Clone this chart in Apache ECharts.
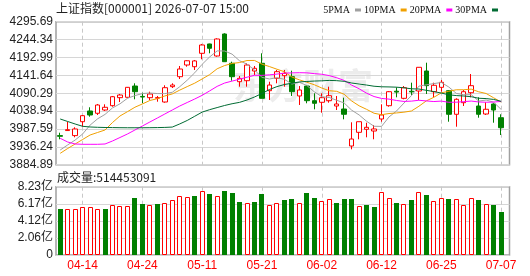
<!DOCTYPE html>
<html><head><meta charset="utf-8">
<script src="https://cdn.jsdelivr.net/npm/echarts@6/dist/echarts.min.js"></script>
<style>html,body{margin:0;padding:0;background:#fff}#c{width:530px;height:276px}</style>
</head><body><div id="c"></div>
<script>
const dates = ['04-09','04-10','04-13','04-14','04-15','04-16','04-17','04-20','04-21','04-22',
'04-23','04-24','04-27','04-28','04-29','04-30','05-06','05-07','05-08','05-11',
'05-12','05-13','05-14','05-15','05-18','05-19','05-20','05-21','05-22','05-25',
'05-26','05-27','05-28','05-29','06-01','06-02','06-03','06-04','06-05','06-08',
'06-09','06-10','06-11','06-12','06-15','06-16','06-17','06-18','06-22','06-23',
'06-24','06-25','06-26','06-29','06-30','07-01','07-02','07-03','07-06','07-07'];

const opens = [3968.5,3983,3968.5,4008.4,4039.2,4032.6,4042.0,4054.4,4077.4,4078.5,
4110.9,4081,4077.4,4076,4065,4109,4137.7,4171.3,4166.4,4204.9,
4231.7,4197.2,4260.4,4176.2,4123.3,4126.2,4154,4176.2,4097.5,4133.1,
4140.6,4137.7,4082.3,4110.9,4068.8,4064.2,4068.8,4053.5,4044.9,3938.6,
3977.9,3986.6,3981.7,4016.2,4054.4,4096,4075.6,4096,4096.6,4154.1,
4094.6,4107.2,4097.5,4029.7,4063,4091.7,4053.5,4030.5,4059.3,4019.9];

const closes = [3966.5,3985.5,3987.5,4025.7,4027.7,4056.4,4049.8,4080.2,4085.1,4107.2,
4094.6,4079.3,4088,4077.5,4106.1,4113.8,4159.8,4183.5,4183.0,4228.8,
4219.3,4246,4180.8,4137.7,4133.1,4171.3,4161.8,4075.6,4113.8,4152.1,
4147.5,4094.6,4099.5,4068.8,4061.3,4077.4,4083.1,4059.3,4029.7,3958.7,
4008.4,3992.3,3987.5,4027.7,4094.6,4093.5,4106.1,4094,4164.7,4112,
4113,4121.6,4029.7,4072.8,4094.6,4111.9,4029.7,4044.1,4042,3991.2];

const lows = [3957.9,3981.7,3963.6,3994,4022.8,4027.7,4039.2,4051.5,4065,4076,
4072.8,4061.3,4070.8,4065.9,4063,4105.2,4131.1,4166.4,4157,4187.7,
4204.9,4195.2,4180.8,4126.2,4109,4109,4142.6,4075.6,4070.8,4118.7,
4109,4082.3,4056.4,4061.3,4044,4034.3,4063,4042,4015.3,3929.1,
3957.9,3963.6,3957.9,4008.4,4051.5,4078.5,4072.8,4085.1,4070.8,4088,
4078.5,4094.6,4008.4,3994,4053.5,4078.5,4019.9,4027.7,4005.5,3970.2];

const highs = [3976.8,4008.4,3992.3,4027.6,4049.8,4059.3,4058.4,4082.3,4088,4108,
4118.7,4091.7,4094.6,4082.3,4113,4118.7,4168.4,4185,4185.7,4231.7,
4232.5,4248,4262.4,4180.8,4139.7,4176.2,4168.4,4204.9,4123.3,4157,
4157,4155,4111,4113.8,4090,4090,4109,4082.3,4077.4,4006.7,
4008.4,4005.5,3998.9,4058.4,4096.6,4107.2,4110.9,4120.5,4165,4177.9,
4120.5,4128.2,4099.5,4075.6,4099.5,4145.4,4078.5,4064.2,4061.3,4029.7];

// volume in 亿
const volumes = [5.54,5.50,5.50,5.74,5.74,5.50,5.54,5.98,5.86,5.86,
6.87,6.14,5.98,6.14,6.26,6.58,7.07,6.95,7.11,7.67,
7.35,7.07,7.71,7.47,6.38,6.26,6.38,7.35,6.02,6.26,
6.62,6.75,6.26,7.47,6.87,6.50,6.71,6.26,6.75,6.75,
5.90,6.02,5.78,7.59,6.87,6.26,6.14,6.62,7.59,7.23,
6.50,6.87,6.75,6.75,6.02,6.87,6.62,6.14,6.02,5.14453091];

const ma5 = [3927.1,3941.6,3955.8,3973.1,3998.6,4016.6,4029.4,4048.0,4059.8,4075.7,
4083.4,4089.3,4090.8,4089.3,4089.1,4092.9,4109.0,4127.8,4148.9,4173.4,
4194.5,4211.8,4211.5,4202.5,4183.4,4173.8,4156.9,4135.9,4131.1,4134.9,
4130.2,4116.7,4121.5,4112.5,4094.3,4080.3,4078.0,4070.0,4062.2,4041.6,
4027.8,4009.7,3995.3,3994.9,4022.1,4039.1,4061.9,4083.2,4110.6,4114.4,
4117.9,4121.0,4108.1,4089.8,4085.9,4086.1,4067.7,4070.6,4064.5,4043.8];

const ma10 = [3917.6,3931.4,3944.4,3957.3,3970.2,3977.4,3984.6,4006.1,4024.8,4037.2,
4050.0,4059.4,4069.4,4074.6,4082.4,4088.2,4099.2,4109.3,4119.1,4131.3,
4143.7,4160.4,4169.7,4175.7,4178.4,4184.2,4184.4,4173.7,4166.8,4159.2,
4152.0,4136.8,4128.7,4121.8,4114.6,4105.2,4097.4,4095.7,4087.3,4068.0,
4054.1,4043.9,4032.7,4028.5,4031.9,4033.5,4035.8,4039.2,4052.8,4068.3,
4078.5,4091.4,4095.7,4100.2,4100.2,4102.0,4094.4,4089.4,4077.1,4064.9];

const ma20 = [3960.7,3950.1,3944.4,3943.5,3943.5,3943.5,3944.4,3953.0,3963.0,3973.1,
3984.6,3996.1,4007.6,4019.0,4030.5,4042.0,4053.5,4063.6,4073.6,4084.2,
4096.9,4109.9,4119.5,4125.1,4130.4,4136.2,4141.8,4141.5,4143.0,4145.2,
4147.9,4148.6,4149.2,4148.8,4146.5,4144.7,4140.9,4134.7,4127.1,4113.6,
4103.0,4090.3,4080.7,4075.2,4073.3,4069.4,4066.6,4067.5,4070.0,4068.1,
4066.3,4067.6,4064.2,4064.4,4066.0,4067.7,4065.1,4064.3,4064.9,4066.6];

const ma30 = [4016.2,4009.0,4001.8,3995.2,3993.2,3992.3,3991.8,3991.5,3991.2,3991.0,
3991.0,3991.0,3991.2,3991.5,3992.0,3993.0,4002.0,4012.0,4024.0,4036.0,
4043.0,4049.0,4055.0,4060.0,4064.0,4070.8,4079.4,4089.4,4100.9,4109.2,
4115.2,4118.9,4122.6,4124.0,4125.2,4125.9,4127.0,4126.3,4124.4,4119.5,
4116.6,4113.7,4110.3,4108.7,4108.3,4107.6,4105.8,4102.9,4102.3,4098.5,
4094.9,4090.7,4085.7,4083.5,4082.2,4080.2,4075.8,4074.8,4072.4,4067.0];

const priceTicks = ['3884.89','3936.24','3987.59','4038.94','4090.29','4141.64','4192.99','4244.34','4295.69'];
const volTicks = ['0','2.06亿','4.12亿','6.17亿','8.23亿'];
const titleText = '上证指数[000001] 2026-07-07 15:00';
const volText = '成交量:514453091';

const priceMin = 3884.89, priceMax = 4295.69, priceStep = 51.35;
const volMin = 0, volMax = 8.23, volStep = 2.0575;

const RED = '#ff0000', GREEN = '#008000';
const SANS = '"Liberation Sans", Arial, sans-serif';
const CJK = '"Noto Sans CJK SC", sans-serif';

const chart = echarts.init(document.getElementById('c'), null, {renderer: 'canvas'});
const candleData = dates.map((d, i) => [opens[i], closes[i], lows[i], highs[i]]);
const volData = volumes.map((v, i) => {
  const up = i === 0 ? closes[0] >= opens[0] : closes[i] >= closes[i - 1];
  return [i, v, up ? 1 : 0];
});
const showIdx = (i) => (i - 3) % 8 === 0;
const gridLine = {lineStyle: {color: '#d6d6d6', width: 1}};
const dashLine = {show: true, interval: (i) => showIdx(i), lineStyle: {color: '#c8c8c8', width: 1, type: [4, 3]}};
const frame = {show: true, borderColor: '#a0a0a0', borderWidth: 1.5, backgroundColor: 'transparent'};
const dataLeft = 60.2, dataWidth = 440.9;

function line(name, data, color) {
  return {name, type: 'line', xAxisIndex: 1, yAxisIndex: 1, data, symbol: 'none', showSymbol: false,
    lineStyle: {width: 1, color}, itemStyle: {color}, silent: true};
}

function renderVol(params, api) {
  const i = api.value(0), v = api.value(1), up = api.value(2);
  const top = api.coord([i, v]);
  const base = api.coord([i, 0]);
  const left = Math.round(top[0] - 2.5);
  const y0 = Math.round(top[1]), y1 = Math.round(base[1]);
  if (up) {
    return {type: 'rect', shape: {x: left + 0.5, y: y0 + 0.5, width: 4, height: y1 - y0 - 1},
      style: {fill: '#ffffff', stroke: RED, lineWidth: 1}};
  }
  return {type: 'rect', shape: {x: left, y: y0, width: 5, height: y1 - y0}, style: {fill: GREEN}};
}

const option = {
  animation: false,
  backgroundColor: '#ffffff',
  title: {text: titleText, left: 56, top: 2, padding: 0,
    textStyle: {fontSize: 12, fontWeight: 'normal', color: '#222', fontFamily: CJK}},
  legend: {right: 32, top: 5, padding: 0, itemGap: 3, itemWidth: 6, itemHeight: 3, icon: 'rect', align: 'right',
    data: ['5PMA', '10PMA', '20PMA', '30PMA'], selectedMode: false,
    textStyle: {fontSize: 10, fontFamily: '"Liberation Serif", serif', color: '#111'}},
  grid: [
    Object.assign({left: 56, top: 21.7, width: 453.5, height: 143}, frame),
    {left: dataLeft, top: 21.7, width: dataWidth, height: 143},
    Object.assign({left: 56, top: 186.7, width: 453.5, height: 68.3}, frame),
    {left: dataLeft, top: 186.7, width: dataWidth, height: 68.3}
  ],
  xAxis: [
    {gridIndex: 0, type: 'value', min: 0, max: 1, show: false},
    {gridIndex: 1, type: 'category', data: dates, boundaryGap: false, axisLine: {show: false},
      axisTick: {show: false}, axisLabel: {show: false}, splitLine: dashLine},
    {gridIndex: 2, type: 'value', min: 0, max: 1, show: false},
    {gridIndex: 3, type: 'category', data: dates, boundaryGap: false, axisLine: {show: false},
      axisTick: {show: false}, splitLine: dashLine,
      axisLabel: {interval: (i) => showIdx(i), color: RED, fontSize: 12, margin: 5, fontFamily: SANS}}
  ],
  yAxis: [
    {gridIndex: 0, type: 'value', min: priceMin, max: priceMax, interval: priceStep,
      axisLine: {show: false}, axisTick: {show: false}, splitLine: gridLine,
      axisLabel: {margin: 3, fontSize: 12, color: '#222', fontFamily: SANS,
        formatter: (v) => priceTicks[Math.round((v - priceMin) / priceStep)]}},
    {gridIndex: 1, type: 'value', min: priceMin, max: priceMax, show: false},
    {gridIndex: 2, type: 'value', min: volMin, max: volMax, interval: volStep,
      axisLine: {show: false}, axisTick: {show: false}, splitLine: gridLine,
      axisLabel: {margin: 3, fontSize: 12, color: '#222', fontFamily: SANS + ',' + CJK,
        formatter: (v) => volTicks[Math.round((v - volMin) / volStep)]}},
    {gridIndex: 3, type: 'value', min: volMin, max: volMax, show: false}
  ],
  graphic: [
    {type: 'text', left: 233, top: 68, z: -10, silent: true,
      style: {text: '东方财富', fontSize: 35, fontWeight: 'bold', fontFamily: CJK, fill: '#ececec'}},
    {type: 'text', left: 57, top: 171, silent: true,
      style: {text: volText, fontSize: 12, fontFamily: CJK, fill: '#222'}}
  ],
  series: [
    {type: 'candlestick', name: 'K', xAxisIndex: 1, yAxisIndex: 1, data: candleData, barWidth: 5, clip: false,
      itemStyle: {color: '#ffffff', color0: GREEN, borderColor: RED, borderColor0: GREEN, borderWidth: 1}},
    line('5PMA', ma5, '#a0a0a0'),
    line('10PMA', ma10, '#f0a000'),
    line('20PMA', ma20, '#ff00ff'),
    line('30PMA', ma30, '#006b33'),
    {type: 'custom', name: 'VOL', xAxisIndex: 3, yAxisIndex: 3, data: volData, encode: {x: 0, y: 1},
      clip: false, silent: true, renderItem: renderVol}
  ]
};
chart.setOption(option);
</script></body></html>
